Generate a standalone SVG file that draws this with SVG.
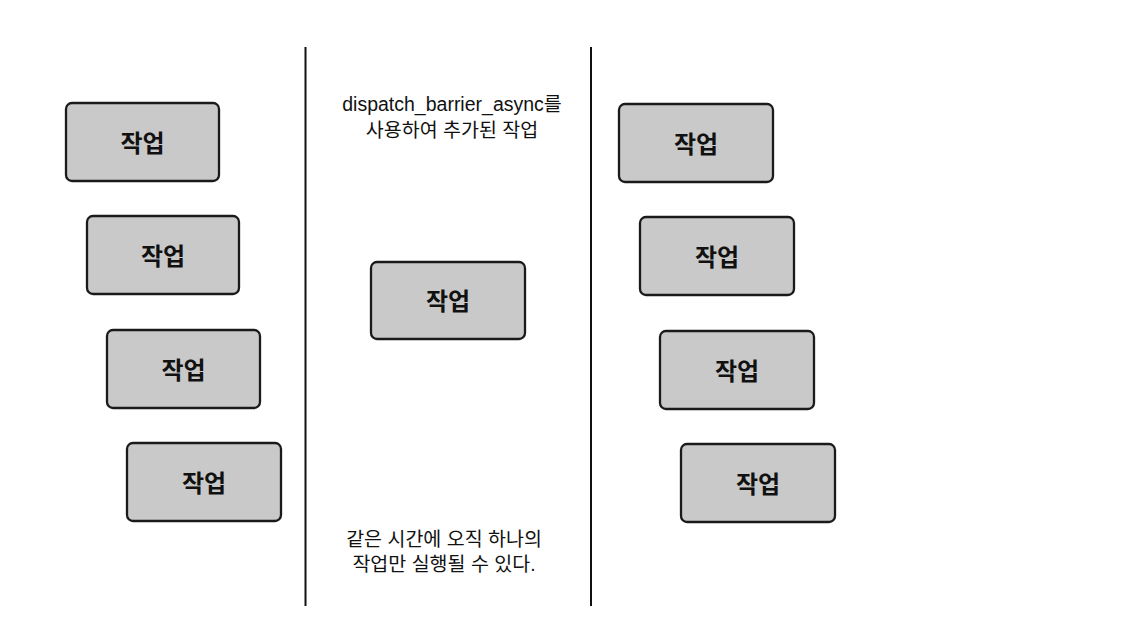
<svg xmlns="http://www.w3.org/2000/svg" width="1132" height="628" viewBox="0 0 1132 628">
<style>
.box{fill:#c9c9c9;stroke:#1a1a1a;stroke-width:2.3}
.lbl{font-family:"Noto Sans CJK KR","Noto Sans",sans-serif;font-size:24px;font-weight:bold;fill:#111;text-anchor:middle;dominant-baseline:central}
.note{font-family:"Liberation Sans","Noto Sans CJK KR",sans-serif;font-size:19.5px;fill:#111;text-anchor:middle}
.div{stroke:#111;stroke-width:2}
</style>
<rect width="1132" height="628" fill="#fff"/>
<g id="connectors">
<line class="div" x1="305.5" y1="47" x2="305.5" y2="606"/>
<line class="div" x1="591" y1="47" x2="591" y2="606"/>
</g>
<g id="l1"><rect class="box" x="66" y="103" width="153" height="78" rx="6"/><text class="lbl" x="142.5" y="141">작업</text></g>
<g id="l2"><rect class="box" x="87" y="216" width="152" height="78" rx="6"/><text class="lbl" x="163" y="254">작업</text></g>
<g id="l3"><rect class="box" x="107" y="330" width="153" height="78" rx="6"/><text class="lbl" x="183.5" y="368">작업</text></g>
<g id="l4"><rect class="box" x="127" y="443" width="154" height="78" rx="6"/><text class="lbl" x="204" y="481">작업</text></g>
<g id="m1"><rect class="box" x="371" y="262" width="154" height="77" rx="6"/><text class="lbl" x="448" y="299.5">작업</text></g>
<g id="r1"><rect class="box" x="619" y="104" width="154" height="78" rx="6"/><text class="lbl" x="696" y="142">작업</text></g>
<g id="r2"><rect class="box" x="640" y="217" width="154" height="78" rx="6"/><text class="lbl" x="717" y="255">작업</text></g>
<g id="r3"><rect class="box" x="660" y="331" width="154" height="78" rx="6"/><text class="lbl" x="737" y="369">작업</text></g>
<g id="r4"><rect class="box" x="681" y="444" width="154" height="78" rx="6"/><text class="lbl" x="758" y="482">작업</text></g>
<g id="topnote">
<text class="note" x="452" y="111">dispatch_barrier_async를</text>
<text class="note" x="452" y="137">사용하여 추가된 작업</text>
</g>
<g id="bottomnote">
<text class="note" x="444" y="546">같은 시간에 오직 하나의</text>
<text class="note" x="444" y="571">작업만 실행될 수 있다.</text>
</g>
</svg>
